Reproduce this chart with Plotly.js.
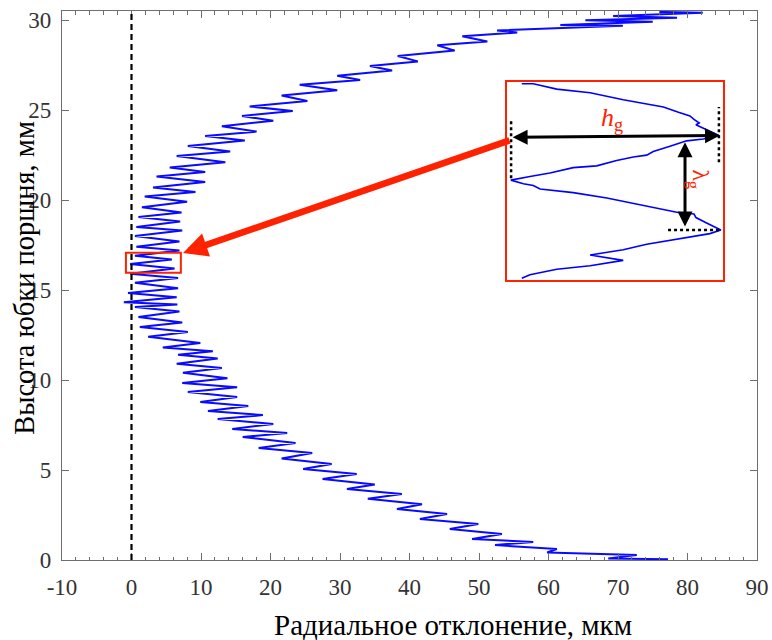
<!DOCTYPE html>
<html><head><meta charset="utf-8">
<script src="https://cdn.plot.ly/plotly-3.0.1.min.js"></script>
<style>html,body{margin:0;padding:0;background:#fff}#chart{width:772px;height:640px}</style>
</head><body><div id="chart"></div>
<script>
// Main skirt profile (zig-zag), vertices, bottom to top
const heightMm = [
  0.04, 0.09, 0.28, 0.42, 0.61, 0.83, 1.00, 1.17, 1.44, 1.72,
  2.00, 2.28, 2.56, 2.83, 3.10, 3.40, 3.67, 3.94, 4.20, 4.50,
  4.78, 5.05, 5.33, 5.64, 5.94, 6.22, 6.50, 6.83, 7.05, 7.28,
  7.56, 7.83, 8.05, 8.28, 8.56, 8.78, 9.06, 9.33, 9.60, 9.83,
  10.10, 10.40, 10.67, 10.90, 11.20, 11.40, 11.60, 11.80, 12.06, 12.40,
  12.67, 12.94, 13.20, 13.50, 13.80, 14.05, 14.20, 14.32, 14.60, 14.83,
  15.10, 15.40, 15.67, 15.90, 16.20, 16.44, 16.70, 16.90, 17.20, 17.40,
  17.70, 18.00, 18.30, 18.50, 18.80, 19.05, 19.30, 19.60, 19.90, 20.20,
  20.45, 20.70, 21.00, 21.30, 21.55, 21.80, 22.10, 22.44, 22.70, 23.00,
  23.30, 23.55, 23.80, 24.10, 24.40, 24.67, 24.94, 25.20, 25.50, 25.80,
  26.10, 26.40, 26.67, 26.90, 27.20, 27.44, 27.70, 28.00, 28.30, 28.60,
  28.80, 29.10, 29.30, 29.42, 29.68, 29.72, 29.90, 29.98, 30.12, 30.22,
  30.40, 30.45
];
const deviationUm = [
  77.2, 68.6, 72.7, 59.8, 61.2, 52.3, 57.8, 49.0, 53.3, 45.8,
  49.9, 41.5, 45.4, 38.2, 41.8, 34.0, 38.9, 31.0, 35.0, 27.5,
  32.4, 24.7, 28.8, 21.6, 26.0, 18.3, 23.6, 16.0, 22.4, 14.5,
  20.4, 12.4, 18.9, 11.0, 16.8, 9.9, 15.2, 8.1, 15.2, 7.3,
  13.8, 7.4, 13.0, 6.5, 12.4, 6.7, 11.7, 4.5, 9.9, 2.4,
  8.1, 1.2, 7.3, 1.0, 6.9, 0.5, 6.6, -1.1, 6.5, -0.5,
  6.7, 0.5, 6.7, -0.2, 6.2, -0.2, 5.8, 0.5, 6.9, 0.7,
  6.9, 0.5, 7.3, 0.7, 7.0, 1.0, 7.2, 1.5, 8.0, 1.9,
  9.2, 3.1, 10.6, 3.6, 10.6, 5.5, 13.5, 6.5, 14.2, 8.1,
  16.3, 10.6, 18.0, 13.0, 20.4, 15.9, 23.2, 17.0, 25.3, 21.6,
  29.6, 24.2, 32.9, 29.6, 37.5, 34.3, 41.2, 38.3, 46.5, 44.0,
  51.2, 47.6, 55.5, 52.6, 70.7, 61.7, 75.0, 65.3, 78.5, 69.3,
  82.2, 76.0
];

// Magnified fragment shown in the inset (same units), top to bottom
const insetDeviationUm = [
  -0.26, 0.16, 1.02, 2.24, 3.45, 4.19, 4.92, 5.47, 5.89, 6.04,
  6.23, 6.11, 6.38, 6.69, 6.95, 6.38, 5.77, 5.16, 4.55, 4.31,
  3.82, 3.21, 2.48, 1.62, 0.77, 0.04, -0.66, -0.20, 0.16, 0.41,
  1.62, 2.85, 3.82, 4.68, 5.41, 6.04, 6.11, 6.50, 7.02, 6.62,
  5.89, 5.16, 4.31, 3.45, 2.60, 2.24, 3.45, 2.24, 1.02, 0.04,
  -0.26
];
const insetHeightMm = [
  17.06, 17.06, 17.03, 17.01, 16.97, 16.95, 16.93, 16.90, 16.88, 16.86,
  16.84, 16.83, 16.81, 16.79, 16.77, 16.75, 16.74, 16.71, 16.68, 16.66,
  16.65, 16.63, 16.60, 16.59, 16.56, 16.54, 16.52, 16.50, 16.49, 16.47,
  16.45, 16.42, 16.39, 16.36, 16.34, 16.33, 16.31, 16.28, 16.24, 16.22,
  16.20, 16.18, 16.16, 16.13, 16.11, 16.10, 16.07, 16.04, 16.02, 15.99,
  15.97
];

// Zoom window (main-chart units)
const zoomBoxX = [-0.8, 7.1];
const zoomBoxY = [15.96, 17.07];

// Axes
const xRange = [-10, 90];
const yRange = [0, 30.5];
const xTickVals = [-10, 0, 10, 20, 30, 40, 50, 60, 70, 80, 90];
const xTickText = ['-10', '0', '10', '20', '30', '40', '50', '60', '70', '80', '90'];
const yTickVals = [0, 5, 10, 15, 20, 25, 30];
const yTickText = ['0', '5', '10', '15', '20', '25', '30'];

const xTitle = 'Радиальное отклонение, мкм';
const yTitle = 'Высота юбки поршня, мм';

// Inset markers (inset units)
const hgArrowX = [-0.65, 6.99];
const hgArrowY = [16.76, 16.77];
const lgArrowX = 5.71;
const lgArrowY = [16.74, 16.26];

const SERIF = 'Liberation Serif, Times New Roman, serif';
const RED = '#ff2200';
const AX = '#6e6e6e';

const traces = [
  {
    x: deviationUm, y: heightMm, type: 'scatter', mode: 'lines',
    line: {color: '#0a0aff', width: 2}, xaxis: 'x', yaxis: 'y', hoverinfo: 'skip'
  },
  {
    x: insetDeviationUm, y: insetHeightMm, type: 'scatter', mode: 'lines',
    line: {color: '#0000ff', width: 1.6}, xaxis: 'x2', yaxis: 'y2', hoverinfo: 'skip'
  }
];

const layout = {
  width: 772, height: 640,
  margin: {l: 62, r: 15, t: 11, b: 80},
  paper_bgcolor: '#ffffff', plot_bgcolor: 'rgba(0,0,0,0)',
  showlegend: false,
  font: {family: SERIF, color: '#333'},
  xaxis: {
    range: xRange, tickvals: xTickVals, ticktext: xTickText,
    ticks: 'inside', ticklen: 7, tickwidth: 1, tickcolor: AX,
    minor: {dtick: 2, tick0: 0, ticks: 'inside', ticklen: 3.5, tickcolor: AX, showgrid: false},
    showline: true, linecolor: AX, linewidth: 1.2, mirror: 'ticks',
    showgrid: false, zeroline: false,
    tickfont: {family: SERIF, size: 23, color: '#333'},
    ticklabelstandoff: 6
  },
  yaxis: {
    range: yRange, tickvals: yTickVals, ticktext: yTickText,
    ticks: 'inside', ticklen: 7, tickwidth: 1, tickcolor: AX,
    showline: true, linecolor: AX, linewidth: 1.2, mirror: 'ticks',
    showgrid: false, zeroline: false,
    tickfont: {family: SERIF, size: 23, color: '#333'},
    ticklabelstandoff: 5
  },
  xaxis2: {
    domain: [0.6403, 0.9511], range: zoomBoxX, anchor: 'y2',
    showline: true, mirror: true, linecolor: RED, linewidth: 2,
    showticklabels: false, ticks: '', showgrid: false, zeroline: false
  },
  yaxis2: {
    domain: [0.5100, 0.8707], range: zoomBoxY, anchor: 'x2',
    showline: true, mirror: true, linecolor: RED, linewidth: 2,
    showticklabels: false, ticks: '', showgrid: false, zeroline: false
  },
  shapes: [
    {type: 'line', xref: 'x', yref: 'paper', x0: 0, x1: 0, y0: 0, y1: 1,
     line: {color: '#000', width: 2.2, dash: '6px,4px'}},
    {type: 'rect', xref: 'x', yref: 'y', x0: zoomBoxX[0], x1: zoomBoxX[1], y0: zoomBoxY[0], y1: zoomBoxY[1],
     line: {color: RED, width: 2}},
    {type: 'line', xref: 'x2', yref: 'y2', x0: -0.65, x1: -0.65, y0: 16.53, y1: 16.86,
     line: {color: '#000', width: 2.5, dash: 'dot'}},
    {type: 'line', xref: 'x2', yref: 'y2', x0: 6.95, x1: 6.95, y0: 16.62, y1: 16.93,
     line: {color: '#000', width: 2.5, dash: 'dot'}},
    {type: 'line', xref: 'x2', yref: 'y2', x0: 5.09, x1: 6.99, y0: 16.24, y1: 16.24,
     line: {color: '#000', width: 2.5, dash: 'dot'}}
  ],
  annotations: [
    {xref: 'paper', yref: 'paper', x: 0.5626, y: -0.118, xanchor: 'center', yanchor: 'middle',
     text: xTitle, showarrow: false, font: {family: SERIF, size: 29, color: '#000'}},
    {xref: 'paper', yref: 'paper', x: -0.054, y: 0.515, xanchor: 'center', yanchor: 'middle',
     text: yTitle, textangle: -90, showarrow: false, font: {family: SERIF, size: 28.5, color: '#000'}},
    // big red pointer from inset to zoom window
    {xref: 'x', yref: 'y', x: 7.41, y: 17.06, axref: 'pixel', ayref: 'pixel', ax: 328, ay: -113,
     text: '', showarrow: true, arrowhead: 2, arrowsize: 0.75, arrowwidth: 6.5, arrowcolor: RED, standoff: 0},
    // h_g double arrow
    {xref: 'x2', yref: 'y2', x: hgArrowX[1], y: hgArrowY[1], axref: 'x2', ayref: 'y2', ax: hgArrowX[0], ay: hgArrowY[0],
     text: '', showarrow: true, arrowside: 'end+start', arrowhead: 2, arrowsize: 1, arrowwidth: 3, arrowcolor: '#000'},
    // lambda_g double arrow
    {xref: 'x2', yref: 'y2', x: lgArrowX, y: lgArrowY[1], axref: 'x2', ayref: 'y2', ax: lgArrowX, ay: lgArrowY[0],
     text: '', showarrow: true, arrowside: 'end+start', arrowhead: 2, arrowsize: 1, arrowwidth: 3, arrowcolor: '#000'},
    {xref: 'x2', yref: 'y2', x: 3.04, y: 16.86, xanchor: 'center', yanchor: 'middle',
     text: '<i>h</i><sub>g</sub>', showarrow: false, font: {family: SERIF, size: 26, color: RED}},
    {xref: 'x2', yref: 'y2', x: 6.22, y: 16.52, xanchor: 'center', yanchor: 'middle', textangle: 90,
     text: 'λ<sub>g</sub>', showarrow: false, font: {family: SERIF, size: 24, color: RED}}
  ]
};

Plotly.newPlot('chart', traces, layout, {staticPlot: true, displayModeBar: false});
</script>
</body></html>
